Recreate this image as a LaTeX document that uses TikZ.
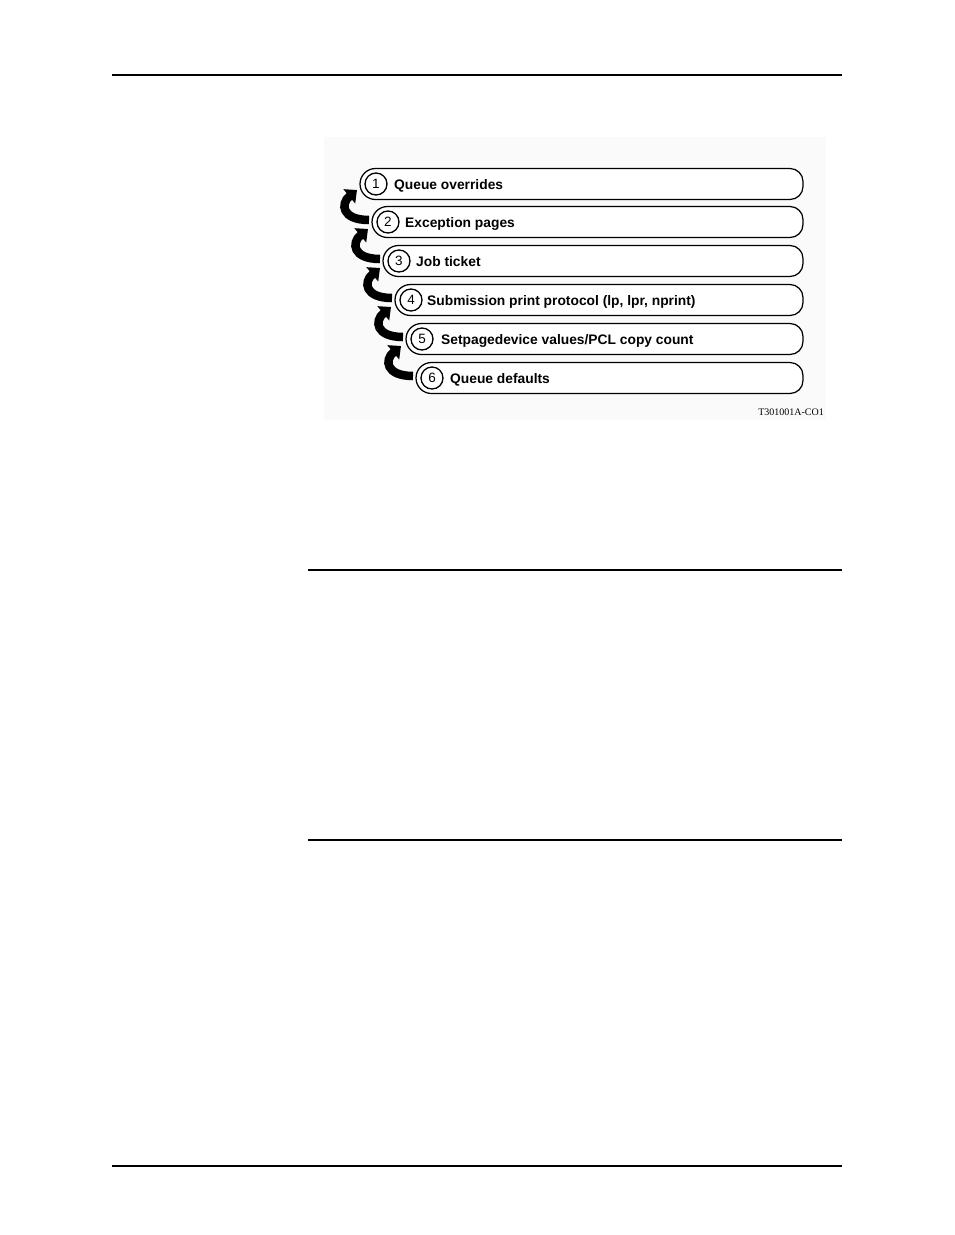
\documentclass[tikz,border=0pt]{standalone}
\usepackage{fontspec}
\setmainfont{Liberation Serif}
\newfontfamily\pillfont{Liberation Sans}
\usetikzlibrary{arrows.meta}
\newcommand\pillshape[2]{%
  \draw[pillline] (#1+15.5,#2-15.5) -- (790,#2-15.5)
     arc[start angle=270,end angle=360,radius=13] -- (803,#2+2.5)
     arc[start angle=0,end angle=90,radius=13] -- (#1+15.5,#2+15.5)
     arc[start angle=90,end angle=270,radius=15.5] -- cycle;}
\begin{document}
\begin{tikzpicture}[x=1pt,y=-1pt,
  rule/.style={line width=2pt},
  pillline/.style={draw,line width=1.25pt,fill=white},
  numcirc/.style={draw,circle,line width=1.3pt,minimum size=22pt,inner sep=0pt,font=\pillfont\fontsize{13.5}{13.5}\selectfont},
  pilltext/.style={anchor=base west,inner sep=0pt,font=\pillfont\bfseries\fontsize{13.8}{14}\selectfont},
  backarrow/.style={line width=8.5pt,-{Triangle[length=10pt,width=18pt]}}
]
\useasboundingbox (0,0) rectangle (954,1235);
% page rules
\draw[rule] (112,75) -- (842,75);
\draw[rule] (308,570) -- (842,570);
\draw[rule] (308,840) -- (842,840);
\draw[rule] (112,1166) -- (842,1166);
% faint background of figure
\fill[black!2] (324,137) rectangle (826,420);
% pills
\pillshape{360}{184}
\node[numcirc] (c1) at (376,184) {1};
\node[pilltext] (t1) at (394,189) {Queue overrides};
\coordinate (p1) at (360,184);
\pillshape{372}{222}
\node[numcirc] (c2) at (388,222) {2};
\node[pilltext] (t2) at (405,227) {Exception pages};
\coordinate (p2) at (372,222);
\pillshape{383}{261}
\node[numcirc] (c3) at (399,261) {3};
\node[pilltext] (t3) at (416,266) {Job ticket};
\coordinate (p3) at (383,261);
\pillshape{395}{300}
\node[numcirc] (c4) at (411,300) {4};
\node[pilltext] (t4) at (427,305) {Submission print protocol (lp, lpr, nprint)};
\coordinate (p4) at (395,300);
\pillshape{406}{339}
\node[numcirc] (c5) at (422,339) {5};
\node[pilltext] (t5) at (441,344) {Setpagedevice values/PCL copy count};
\coordinate (p5) at (406,339);
\pillshape{416}{378}
\node[numcirc] (c6) at (432,378) {6};
\node[pilltext] (t6) at (450,383) {Queue defaults};
\coordinate (p6) at (416,378);
% curved arrows from lower pill to upper pill
\foreach \j in {2,...,6}{
  \draw[backarrow] ([xshift=-3pt,yshift=2pt]p\j)
     .. controls ([xshift=-30pt,yshift=2pt]p\j) and ([xshift=-32pt,yshift=18pt]p\j)
     .. ([xshift=-15pt,yshift=32pt]p\j);
}
\node[anchor=east,inner sep=0pt,font=\fontsize{10}{10}\selectfont] (code) at (824,412) {T301001A-CO1};
\end{tikzpicture}
\end{document}
